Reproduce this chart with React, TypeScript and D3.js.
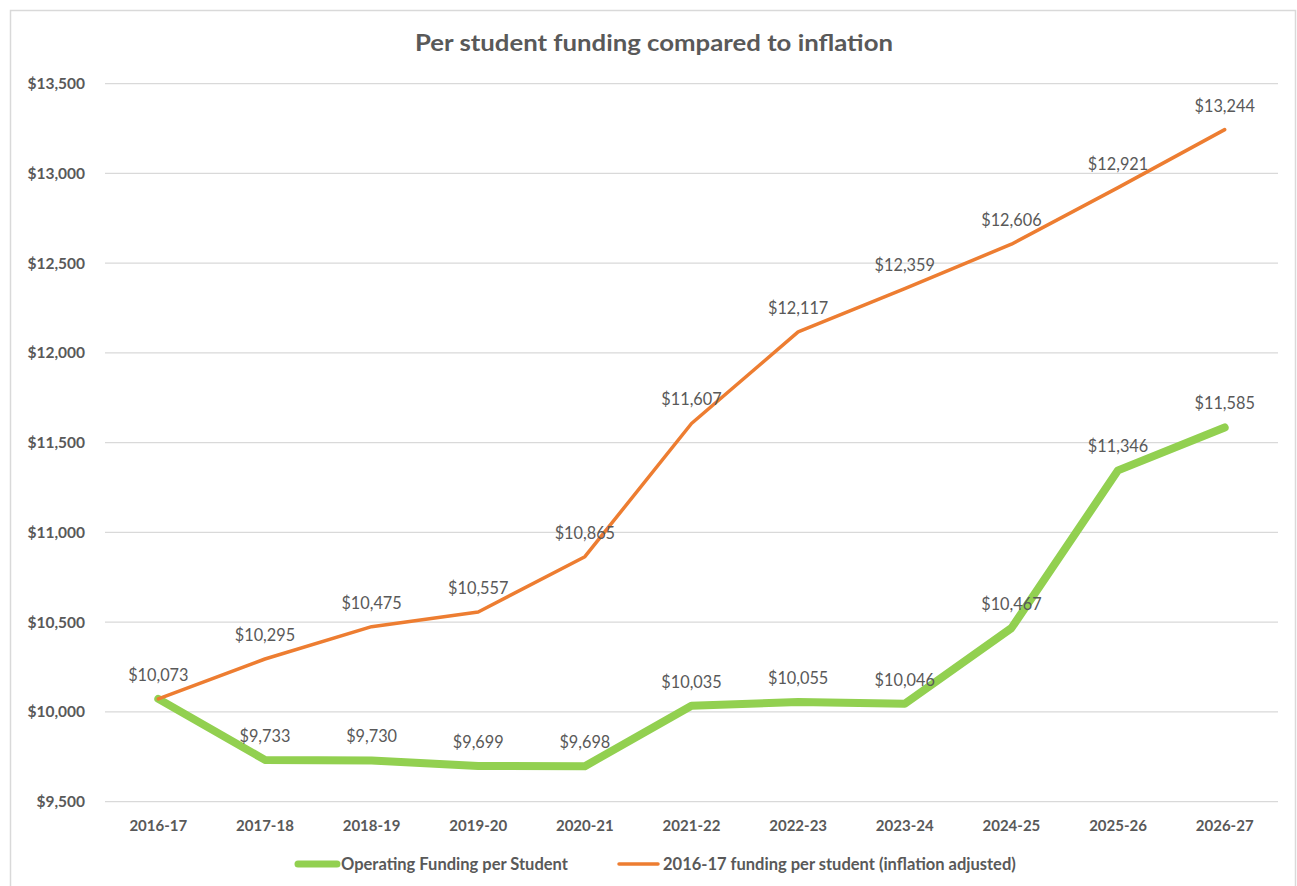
import React, { useEffect, useRef } from 'react';
import * as d3 from 'd3';

const years = ['2016-17', '2017-18', '2018-19', '2019-20', '2020-21', '2021-22', '2022-23', '2023-24', '2024-25', '2025-26', '2026-27'];
const operatingFunding = [10073, 9733, 9730, 9699, 9698, 10035, 10055, 10046, 10467, 11346, 11585];
const inflationAdjusted = [10073, 10295, 10475, 10557, 10865, 11607, 12117, 12359, 12606, 12921, 13244];
const yTicks = [9500, 10000, 10500, 11000, 11500, 12000, 12500, 13000, 13500];

const width = 1297;
const height = 886;
const font = 'Lato, "Open Sans", sans-serif';
const textColor = '#595959';

const App: React.FC = () => {
    const ref = useRef<SVGSVGElement>(null);

    useEffect(() => {
        const svg = d3.select(ref.current);
        svg.selectAll('*').remove();

        // chart frame
        svg.append('rect')
            .attr('x', 10.5).attr('y', 10.5)
            .attr('width', 1285).attr('height', 900)
            .attr('fill', '#fff').attr('stroke', '#d9d9d9').attr('stroke-width', 1.5);

        svg.append('text')
            .attr('x', 415).attr('y', 51)
            .attr('textLength', 478).attr('lengthAdjust', 'spacingAndGlyphs')
            .attr('font-family', font).attr('font-size', 23.5).attr('font-weight', 'bold')
            .attr('fill', textColor)
            .text('Per student funding compared to inflation');

        const x = d3.scalePoint<string>().domain(years).range([105, 1278]).padding(0.5);
        const y = d3.scaleLinear().domain([9500, 13500]).range([801.7, 83.7]);

        // gridlines + y labels
        const grid = svg.append('g');
        grid.selectAll('line').data(yTicks).enter().append('line')
            .attr('x1', 105).attr('x2', 1278)
            .attr('y1', d => y(d)).attr('y2', d => y(d))
            .attr('stroke', '#d9d9d9').attr('stroke-width', 1.3);
        grid.selectAll('text').data(yTicks).enter().append('text')
            .attr('x', 85).attr('y', d => y(d) + 5.5)
            .attr('text-anchor', 'end')
            .attr('font-family', font).attr('font-size', 15.5).attr('font-weight', 'bold')
            .attr('fill', textColor)
            .text(d => d3.format('$,')(d));

        // x labels
        svg.append('g').selectAll('text').data(years).enter().append('text')
            .attr('x', d => x(d)!).attr('y', 831)
            .attr('text-anchor', 'middle')
            .attr('font-family', font).attr('font-size', 15).attr('font-weight', 'bold')
            .attr('fill', textColor)
            .text(d => d);

        const line = d3.line<number>()
            .x((d, i) => x(years[i])!)
            .y(d => y(d));

        svg.append('path').datum(operatingFunding)
            .attr('d', line).attr('fill', 'none')
            .attr('stroke', '#92d050').attr('stroke-width', 8)
            .attr('stroke-linejoin', 'round').attr('stroke-linecap', 'round');

        svg.append('path').datum(inflationAdjusted)
            .attr('d', line).attr('fill', 'none')
            .attr('stroke', '#ed7d31').attr('stroke-width', 3.5)
            .attr('stroke-linejoin', 'round').attr('stroke-linecap', 'round');

        // data labels
        const labels = svg.append('g')
            .attr('font-family', font).attr('font-size', 16.3)
            .attr('fill', textColor).attr('text-anchor', 'middle');
        const fmt = d3.format('$,');
        labels.selectAll('.lab-o').data(inflationAdjusted).enter().append('text')
            .attr('x', (d, i) => x(years[i])!).attr('y', d => y(d) - 18)
            .text(d => fmt(d));
        labels.selectAll('.lab-g').data(operatingFunding).enter().append('text')
            .attr('x', (d, i) => x(years[i])!).attr('y', d => y(d) - 18)
            .text((d, i) => (d === inflationAdjusted[i] ? '' : fmt(d)));

        // legend
        const legend = svg.append('g')
            .attr('font-family', font).attr('font-size', 16.5).attr('font-weight', 'bold')
            .attr('fill', textColor);
        legend.append('line')
            .attr('x1', 298).attr('x2', 337).attr('y1', 864).attr('y2', 864)
            .attr('stroke', '#92d050').attr('stroke-width', 7).attr('stroke-linecap', 'round');
        legend.append('text').attr('x', 341).attr('y', 870).text('Operating Funding per Student');
        legend.append('line')
            .attr('x1', 619).attr('x2', 658).attr('y1', 864).attr('y2', 864)
            .attr('stroke', '#ed7d31').attr('stroke-width', 3.5).attr('stroke-linecap', 'round');
        legend.append('text').attr('x', 663).attr('y', 870).text('2016-17 funding per student (inflation adjusted)');
    }, []);

    return (
        <svg ref={ref} width={width} height={height}
            style={{ position: 'absolute', left: 0, top: 0, display: 'block' }} />
    );
};

export default App;
